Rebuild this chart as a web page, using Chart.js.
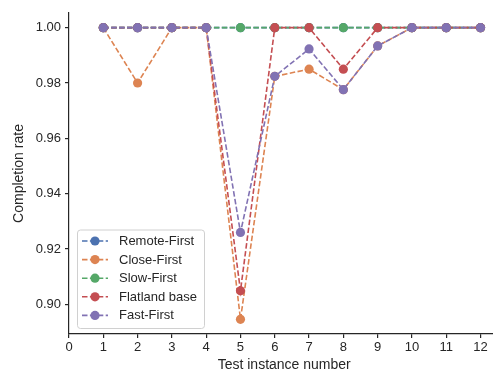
<!DOCTYPE html>
<html>
<head>
<meta charset="utf-8">
<script src="https://cdn.jsdelivr.net/npm/chart.js@4"></script>
<style>
  html, body { margin: 0; padding: 0; background: #fff; overflow: hidden; }
  #wrap { width: 504px; height: 374px; }
</style>
</head>
<body>
<div id="wrap"><canvas id="lineChart"></canvas></div>
<script>
// test instances and completion rates per strategy
var instances = [1, 2, 3, 4, 5, 6, 7, 8, 9, 10, 11, 12];
var remoteFirst = [1, 1, 1, 1, 1, 1, 1, 1, 1, 1, 1, 1];
var closeFirst = [1, 0.98, 1, 1, 0.8946, 0.9824, 0.985, 0.9776, 0.9934, 1, 1, 1];
var slowFirst = [1, 1, 1, 1, 1, 1, 1, 1, 1, 1, 1, 1];
var flatlandBase = [1, 1, 1, 1, 0.9049, 1, 1, 0.985, 1, 1, 1, 1];
var fastFirst = [1, 1, 1, 1, 0.926, 0.9824, 0.9923, 0.9776, 0.9934, 1, 1, 1];

var xTicks = [0, 1, 2, 3, 4, 5, 6, 7, 8, 9, 10, 11, 12];
var yTicks = [0.90, 0.92, 0.94, 0.96, 0.98, 1.00];

var names = ["Remote-First", "Close-First", "Slow-First", "Flatland base", "Fast-First"];
var colors = ["#4C72B0", "#DD8452", "#55A868", "#C44E52", "#8172B3"];
var series = [remoteFirst, closeFirst, slowFirst, flatlandBase, fastFirst];

var textColor = "#262626";
var font = "'Liberation Sans', Arial, sans-serif";

function makeDataset(i) {
    return {
        label: names[i],
        data: instances.map(function (x, j) { return { x: x, y: series[i][j] }; }),
        order: names.length - i, // later series on top, like matplotlib
        borderColor: colors[i],
        backgroundColor: colors[i],
        borderWidth: 1.6,
        borderDash: [5.5, 2.4],
        pointRadius: 4.6,
        pointBorderWidth: 0,
        pointBackgroundColor: colors[i],
        tension: 0
    };
}

// legend drawn inside the axes, lower left, like matplotlib
var innerLegend = {
    id: 'innerLegend',
    afterDraw: function (chart) {
        var ctx = chart.ctx;
        var area = chart.chartArea;
        var x0 = area.left + 8, y1 = area.bottom - 6;
        var w = 127, rowH = 18.6, h = 98.5;
        var y0 = y1 - h;
        ctx.save();
        ctx.fillStyle = 'rgba(255,255,255,0.8)';
        ctx.strokeStyle = '#d0d0d0';
        ctx.lineWidth = 1;
        ctx.beginPath();
        ctx.roundRect(x0 + 0.5, y0 + 0.5, w, h, 3);
        ctx.fill();
        ctx.stroke();
        ctx.font = "13px " + font;
        ctx.textBaseline = 'middle';
        for (var i = 0; i < names.length; i++) {
            var cy = y0 + 11.5 + i * rowH;
            ctx.strokeStyle = colors[i];
            ctx.lineWidth = 1.6;
            ctx.setLineDash([5.5, 2.4]);
            ctx.beginPath();
            ctx.moveTo(x0 + 5, cy);
            ctx.lineTo(x0 + 31, cy);
            ctx.stroke();
            ctx.setLineDash([]);
            ctx.fillStyle = colors[i];
            ctx.beginPath();
            ctx.arc(x0 + 18, cy, 4.6, 0, Math.PI * 2);
            ctx.fill();
            ctx.fillStyle = textColor;
            ctx.fillText(names[i], x0 + 42, cy + 0.5);
        }
        ctx.restore();
    }
};

var canvas = document.getElementById("lineChart");
var myChart = new Chart(canvas, {
    type: 'line',
    data: { datasets: [0, 1, 2, 3, 4].map(makeDataset) },
    options: {
        responsive: true,
        maintainAspectRatio: false,
        animation: false,
        layout: { padding: { top: 13, right: 0, left: 0, bottom: 0 } },
        plugins: {
            legend: { display: false },
            tooltip: { enabled: false }
        },
        scales: {
            x: {
                type: 'linear',
                min: 0,
                max: 12.55,
                afterBuildTicks: function (scale) {
                    scale.ticks = xTicks.map(function (v) { return { value: v }; });
                },
                afterFit: function (scale) { scale.height = 40; },
                border: { display: true, color: textColor, width: 1.2 },
                grid: { drawOnChartArea: false, drawTicks: true, tickLength: 4, color: textColor, lineWidth: 1.2 },
                ticks: { color: textColor, font: { family: font, size: 13 }, padding: 2, maxRotation: 0 },
                title: { display: true, text: 'Test instance number', color: textColor, font: { family: font, size: 14 }, padding: { top: 0, bottom: 0 } }
            },
            y: {
                min: 0.8893,
                max: 1.0053,
                afterBuildTicks: function (scale) {
                    scale.ticks = yTicks.map(function (v) { return { value: v }; });
                },
                afterFit: function (scale) { scale.width = 69; },
                border: { display: true, color: textColor, width: 1.2 },
                grid: { drawOnChartArea: false, drawTicks: true, tickLength: 4, color: textColor, lineWidth: 1.2 },
                ticks: {
                    color: textColor, font: { family: font, size: 13 }, padding: 4,
                    callback: function (v) { return Number(v).toFixed(2); }
                },
                title: { display: true, text: 'Completion rate', color: textColor, font: { family: font, size: 14 }, padding: { top: 11, bottom: 4 } }
            }
        }
    },
    plugins: [innerLegend]
});
</script>
</body>
</html>
